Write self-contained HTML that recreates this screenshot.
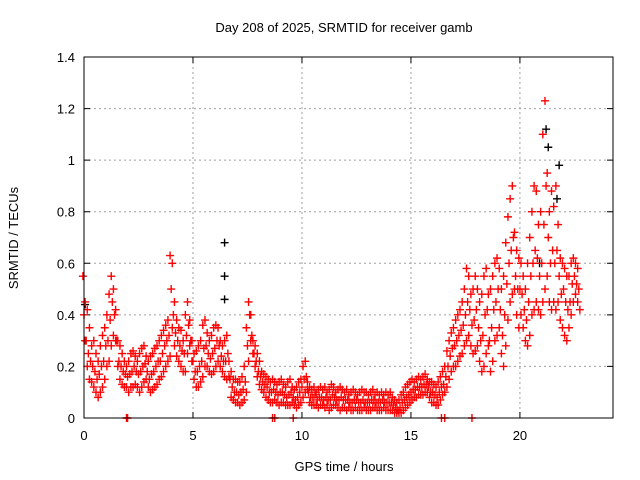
<!DOCTYPE html>
<html><head><meta charset="utf-8"><style>
body{margin:0;background:#fff}
svg{display:block}
text{font-family:"Liberation Sans",sans-serif;font-size:13px;fill:#000}
</style></head><body>
<svg id="chart" width="640" height="480" viewBox="0 0 640 480">
<text x="344" y="32" text-anchor="middle">Day 208 of 2025, SRMTID for receiver gamb</text>
<text transform="translate(18,238) rotate(-90)" text-anchor="middle">SRMTID / TECUs</text>
<text x="344" y="471" text-anchor="middle">GPS time / hours</text>
<g id="grid"></g>
<g id="axes"></g>
<g id="marks"></g>
<rect x="84" y="57" width="529" height="361" fill="none" stroke="#000" stroke-width="1"/>
</svg>
<script>
const xTicks=[0,5,10,15,20];
const yTicks=[0,0.2,0.4,0.6,0.8,1,1.2,1.4];
const yTickLabels=["0","0.2","0.4","0.6","0.8","1","1.2","1.4"];
const startHour=0, stepHour=0.1;
const hi=[0.55,0.45,0.42,0.35,0.28,0.3,0.25,0.22,0.28,0.32, 0.35,0.4,0.48,0.55,0.5,0.42,0.3,0.28,0.25,0.22, 0.2,0.22,0.25,0.26,0.24,0.22,0.25,0.27,0.28,0.24, 0.22,0.24,0.25,0.27,0.28,0.3,0.32,0.34,0.36,0.38, 0.63,0.6,0.45,0.38,0.35,0.34,0.3,0.4,0.45,0.38, 0.3,0.25,0.26,0.28,0.3,0.36,0.38,0.33,0.3,0.32, 0.35,0.36,0.35,0.3,0.28,0.3,0.32,0.22,0.18,0.15, 0.15,0.14,0.14,0.16,0.2,0.35,0.45,0.4,0.3,0.28, 0.25,0.22,0.18,0.17,0.16,0.15,0.14,0.15,0.14,0.13, 0.14,0.15,0.13,0.12,0.14,0.15,0.12,0.11,0.12,0.14, 0.15,0.2,0.22,0.14,0.12,0.11,0.12,0.1,0.11,0.12, 0.11,0.12,0.1,0.11,0.13,0.12,0.1,0.11,0.12,0.11, 0.1,0.11,0.09,0.1,0.11,0.1,0.09,0.1,0.11,0.1, 0.1,0.09,0.1,0.11,0.09,0.1,0.09,0.1,0.09,0.1, 0.09,0.1,0.08,0.07,0.06,0.07,0.09,0.1,0.12,0.13, 0.14,0.15,0.14,0.15,0.16,0.15,0.16,0.17,0.15,0.14, 0.14,0.13,0.12,0.14,0.16,0.18,0.2,0.26,0.3,0.33, 0.35,0.38,0.4,0.42,0.45,0.5,0.58,0.55,0.48,0.5, 0.55,0.5,0.45,0.48,0.55,0.58,0.48,0.5,0.55,0.6, 0.62,0.58,0.5,0.55,0.68,0.78,0.85,0.9,0.72,0.65, 0.62,0.6,0.55,0.5,0.6,0.7,0.8,0.9,0.88,0.75, 0.8,1.1,1.23,0.95,0.8,0.88,0.82,0.9,0.75,0.62, 0.6,0.58,0.55,0.55,0.6,0.62,0.6,0.58];
const mid=[0.4,0.3,0.25,0.22,0.2,0.18,0.15,0.17,0.2,0.22, 0.28,0.3,0.38,0.45,0.4,0.3,0.22,0.2,0.18,0.17, 0.16,0.17,0.18,0.2,0.18,0.17,0.18,0.2,0.21,0.18, 0.15,0.17,0.18,0.2,0.22,0.22,0.25,0.28,0.3,0.32, 0.5,0.4,0.33,0.3,0.28,0.26,0.25,0.32,0.36,0.3, 0.22,0.18,0.18,0.2,0.22,0.27,0.28,0.25,0.23,0.25, 0.27,0.3,0.28,0.24,0.22,0.22,0.25,0.15,0.12,0.1, 0.1,0.09,0.1,0.11,0.14,0.28,0.4,0.32,0.25,0.22, 0.18,0.16,0.14,0.13,0.12,0.1,0.1,0.11,0.1,0.09, 0.1,0.1,0.09,0.08,0.09,0.1,0.08,0.07,0.08,0.1, 0.12,0.15,0.16,0.1,0.08,0.08,0.09,0.07,0.08,0.08, 0.07,0.08,0.07,0.07,0.09,0.08,0.07,0.07,0.08,0.07, 0.07,0.07,0.06,0.06,0.07,0.07,0.06,0.06,0.07,0.06, 0.06,0.06,0.07,0.07,0.06,0.06,0.06,0.07,0.06,0.06, 0.06,0.06,0.05,0.04,0.03,0.04,0.06,0.07,0.08,0.09, 0.1,0.11,0.11,0.12,0.12,0.12,0.13,0.13,0.12,0.1, 0.1,0.09,0.08,0.1,0.12,0.13,0.16,0.2,0.24,0.27, 0.28,0.3,0.32,0.34,0.36,0.4,0.45,0.42,0.36,0.38, 0.42,0.35,0.3,0.32,0.4,0.42,0.3,0.35,0.42,0.45, 0.5,0.42,0.32,0.4,0.52,0.6,0.65,0.7,0.55,0.5, 0.5,0.48,0.42,0.38,0.45,0.55,0.6,0.65,0.62,0.55, 0.6,0.75,0.9,0.7,0.6,0.65,0.6,0.65,0.55,0.48, 0.5,0.45,0.42,0.45,0.52,0.55,0.52,0.5];
const lo=[0.3,0.2,0.15,0.14,0.12,0.1,0.08,0.1,0.12,0.15, 0.2,0.22,0.28,0.32,0.3,0.2,0.15,0.13,0.12,0.12, 0.1,0.12,0.12,0.13,0.12,0.1,0.12,0.14,0.15,0.12, 0.1,0.11,0.12,0.13,0.15,0.16,0.18,0.2,0.22,0.24, 0.35,0.28,0.24,0.22,0.2,0.18,0.18,0.25,0.28,0.22, 0.15,0.12,0.12,0.14,0.16,0.2,0.2,0.18,0.17,0.18, 0.2,0.22,0.2,0.18,0.16,0.15,0.16,0.08,0.07,0.06, 0.06,0.05,0.06,0.07,0.1,0.22,0.3,0.25,0.2,0.16, 0.13,0.11,0.1,0.08,0.07,0.06,0.06,0.07,0.06,0.05, 0.06,0.06,0.05,0.05,0.05,0.06,0.05,0.04,0.05,0.06, 0.08,0.1,0.11,0.06,0.05,0.05,0.05,0.04,0.05,0.05, 0.04,0.05,0.03,0.04,0.05,0.05,0.04,0.03,0.04,0.04, 0.03,0.04,0.03,0.03,0.04,0.03,0.03,0.03,0.04,0.03, 0.03,0.03,0.04,0.04,0.03,0.03,0.03,0.04,0.03,0.03, 0.03,0.03,0.02,0.02,0.02,0.02,0.03,0.04,0.05,0.06, 0.07,0.08,0.08,0.09,0.09,0.09,0.1,0.1,0.08,0.06, 0.06,0.05,0.05,0.07,0.09,0.1,0.12,0.15,0.18,0.2, 0.2,0.22,0.24,0.25,0.28,0.3,0.32,0.28,0.25,0.26, 0.28,0.22,0.18,0.2,0.25,0.28,0.18,0.22,0.3,0.32, 0.35,0.25,0.2,0.28,0.38,0.45,0.48,0.5,0.4,0.35, 0.4,0.35,0.3,0.28,0.32,0.4,0.42,0.45,0.42,0.4, 0.45,0.5,0.55,0.45,0.42,0.45,0.42,0.45,0.38,0.35, 0.32,0.3,0.35,0.4,0.45,0.48,0.45,0.42];
const blackTimes=[6.45,6.45,6.45,21.2,21.3,21.8,21.7,20.9,0.05,15.9];
const blackValues=[0.68,0.55,0.46,1.12,1.05,0.98,0.85,0.6,0.44,0.1];
const zeroTimes=[1.95,2.0,8.65,8.75,9.6,16.4,16.55,17.8];

const X0=84,X1=613,Y0=418,Y1=57,XMAX=24.27,YMAX=1.4;
function xs(t){return X0+t/XMAX*(X1-X0);}
function ys(v){return Y0-v/YMAX*(Y0-Y1);}
const NS="http://www.w3.org/2000/svg";
const grid=document.getElementById('grid'),axes=document.getElementById('axes'),marks=document.getElementById('marks');
function mk(tag,attrs,parent){const e=document.createElementNS(NS,tag);for(const k in attrs)e.setAttribute(k,attrs[k]);parent.appendChild(e);return e;}
xTicks.forEach(t=>{
  const x=xs(t);
  if(t>0){const g=mk('line',{x1:x,y1:Y1,x2:x,y2:Y0,stroke:'#a0a0a0','stroke-dasharray':'2,3'},grid);
  
  }
  const tk=mk('path',{d:`M${x},${Y0}v-6M${x},${Y1}v6`,stroke:'#000'},axes);
  
  
  const lb=mk('text',{x:x,y:Y0+22,'text-anchor':'middle'},axes);lb.textContent=String(t);
  
  
});
yTicks.forEach((v,i)=>{
  const y=ys(v);
  if(v>0&&v<YMAX){const g=mk('line',{x1:X0,y1:y,x2:X1,y2:y,stroke:'#a0a0a0','stroke-dasharray':'2,3'},grid);
  
  }
  const tk=mk('path',{d:`M${X0},${y}h6M${X1},${y}h-6`,stroke:'#000'},axes);
  
  
  const lb=mk('text',{x:X0-9,y:y+5,'text-anchor':'end'},axes);lb.textContent=yTickLabels[i];
  
  
});
function plus(t,v,color){
  const x=xs(t),y=ys(v);
  const p=mk('path',{d:`M${x-4},${y}h8M${x},${y-4}v8`,stroke:color,'stroke-width':1.4},marks);
  
  
}
blackTimes.forEach((t,i)=>plus(t,blackValues[i],'#000000'));
[hi,mid,lo].forEach((arr,s)=>{
  arr.forEach((v,i)=>{plus(startHour+i*stepHour+s*0.05-0.05,v,'#ff0000');});
});
zeroTimes.forEach(t=>plus(t,0,'#ff0000'));
</script>
</body></html>
